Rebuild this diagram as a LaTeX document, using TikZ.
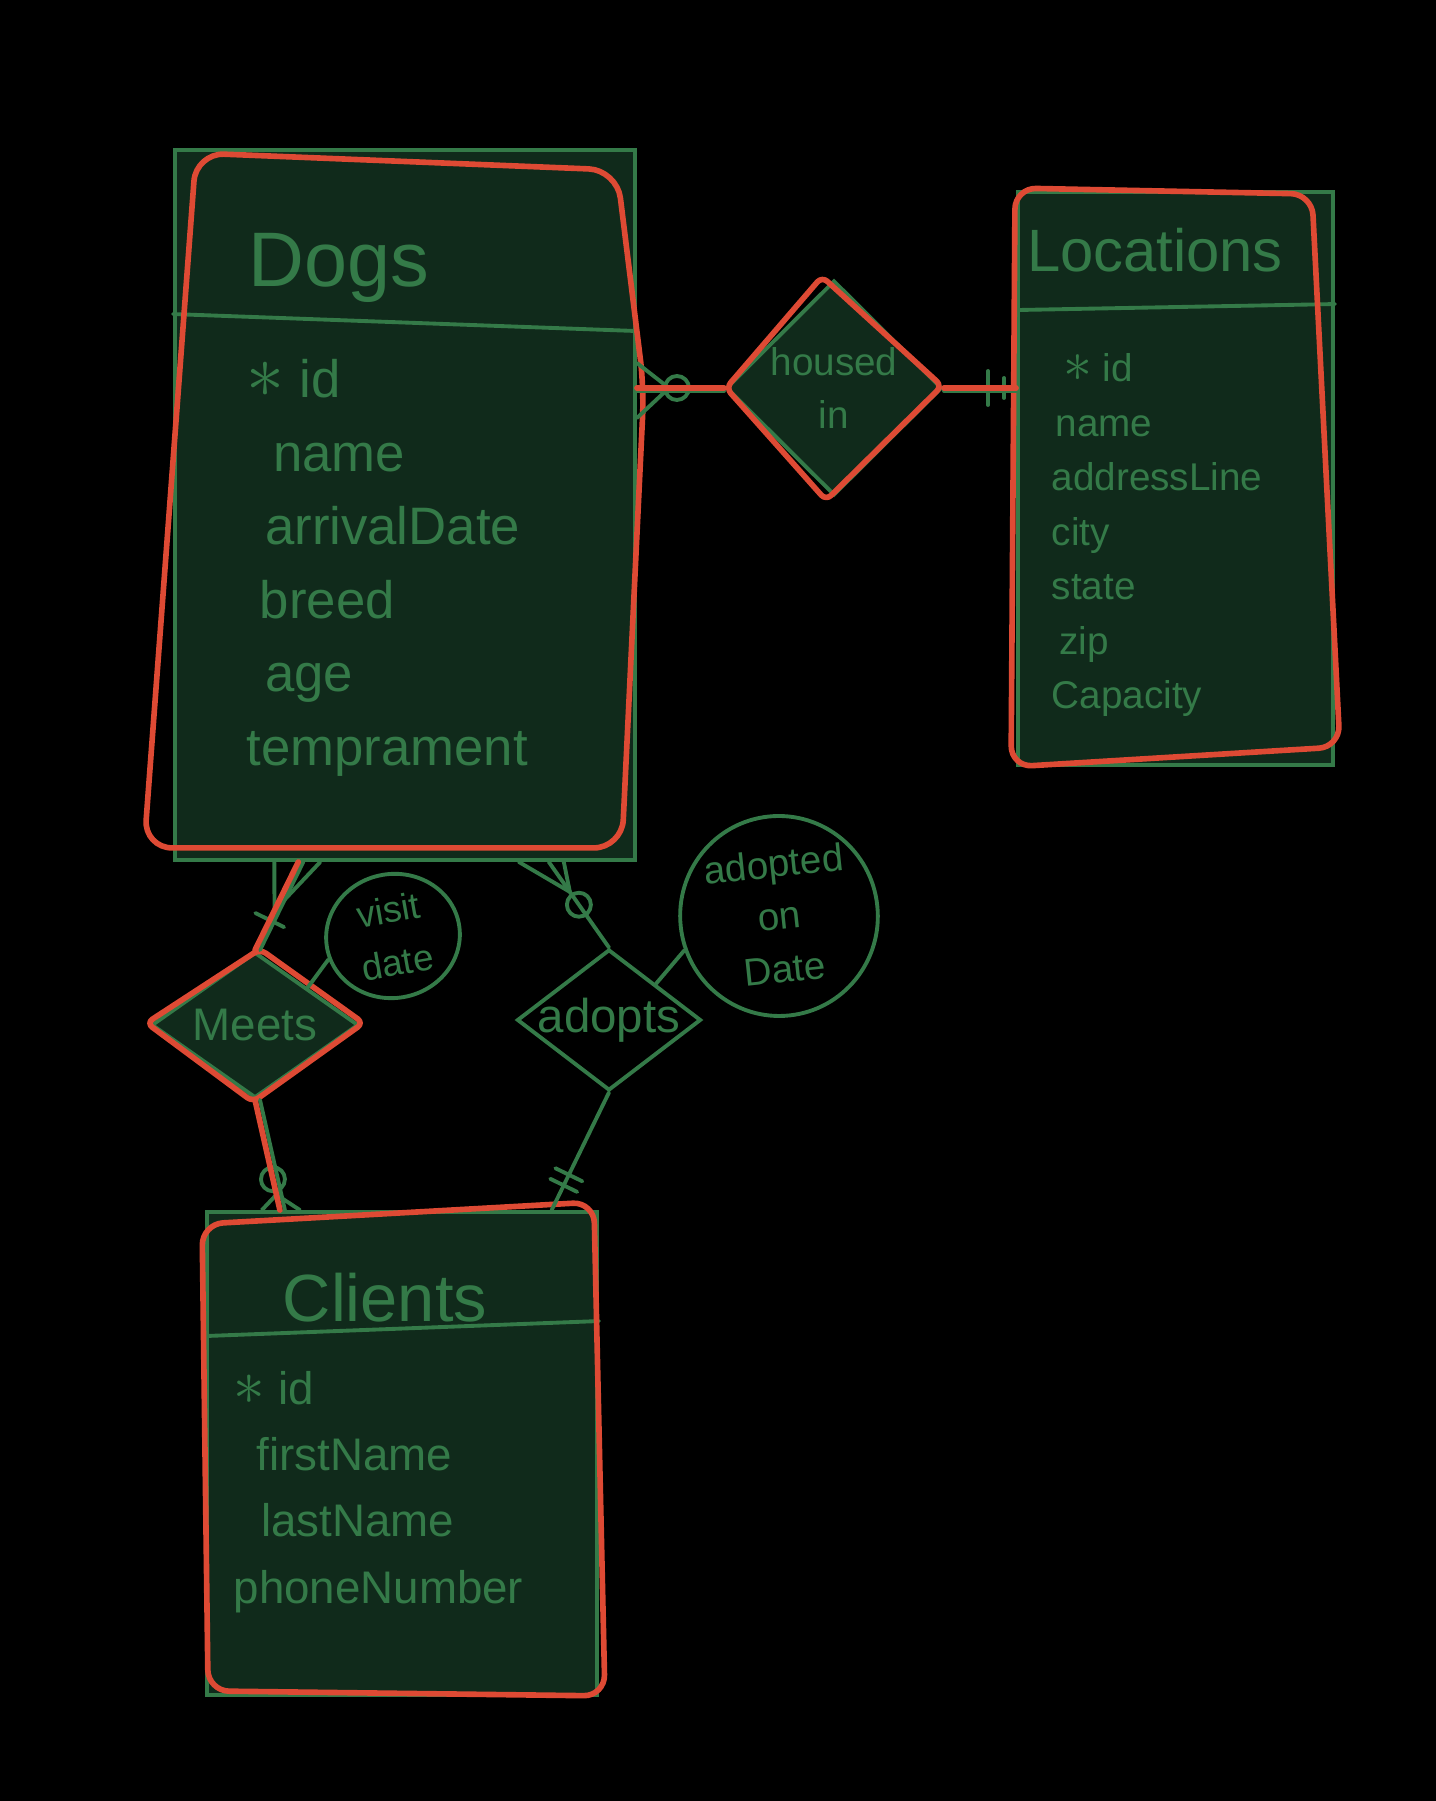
\documentclass[tikz,border=0pt]{standalone}
\usepackage{fontspec}
\setmainfont{Liberation Sans}
\usetikzlibrary{shapes.geometric,calc}
\definecolor{chalkgreen}{RGB}{52,122,72}
\definecolor{boardfill}{RGB}{16,42,27}
\definecolor{markerred}{RGB}{222,74,52}
\tikzset{
  entity/.style={draw=chalkgreen, line width=1.1pt, fill=boardfill, rectangle, inner sep=0pt},
  relation/.style={draw=chalkgreen, line width=1.1pt, diamond, inner sep=0pt, text=chalkgreen, align=center},
  attrib/.style={draw=chalkgreen, line width=1.1pt, ellipse, inner sep=0pt, text=chalkgreen, align=center},
  handtext/.style={text=chalkgreen, inner sep=0pt},
  greenline/.style={draw=chalkgreen, line width=1.1pt, line cap=round, line join=round},
  redline/.style={draw=markerred, line width=1.6pt, line cap=round, line join=round},
}
\newcommand{\keymark}{\scalebox{1.5}{$\ast$}}

\begin{document}
\begin{tikzpicture}
  % board
  \fill[black] (0,0) rectangle (14.36,18.01);

  % Dogs
  \node[entity, minimum width=4.6cm, minimum height=7.1cm] (dogs) at (4.05,12.96) {};
  \draw[greenline] ([yshift=-1.66cm]dogs.north west) -- ([yshift=-1.83cm]dogs.north east);
  \node[handtext, font=\fontsize{22}{26}\selectfont] (dogs-title) at (3.39,15.33) {Dogs};
  \node[handtext, anchor=north west, align=left, font=\fontsize{15}{20.9}\selectfont] (dogs-attrs) at (2.46,14.42)
    {\keymark\ id\\ \hspace{0.5em}name\\ \hspace{0.35em}arrivalDate\\ \hspace{0.25em}breed\\ \hspace{0.35em}age\\ temprament};
  \draw[redline, rounded corners=8pt] ([shift={(0.23,-0.05)}]dogs.north west) -- ([shift={(-0.2,-0.22)}]dogs.north east)
    -- ([shift={(0.07,-2.4)}]dogs.north east) -- ([shift={(-0.15,0.14)}]dogs.south east)
    -- ([shift={(-0.29,0.14)}]dogs.south west) -- cycle;

  % Locations
  \node[entity, minimum width=3.15cm, minimum height=5.73cm] (locations) at (11.755,13.225) {};
  \draw[greenline] ([yshift=-1.2cm]locations.north west) -- ([yshift=-1.14cm]locations.north east);
  \node[handtext, font=\fontsize{17}{20}\selectfont] (locations-title) at (11.55,15.51) {Locations};
  \node[handtext, anchor=north west, align=left, font=\fontsize{11}{15.5}\selectfont] (locations-attrs) at (10.51,14.48)
    {\hspace{0.3em}\keymark\ id\\ \hspace{0.1em}name\\ addressLine\\ city\\ state\\ \hspace{0.2em}zip\\ Capacity};
  \draw[redline, rounded corners=6pt] ([shift={(-0.01,0.02)}]locations.north west) -- ([shift={(-0.23,-0.04)}]locations.north east)
    -- ([shift={(0.05,0.2)}]locations.south east) -- ([shift={(-0.05,0)}]locations.south west) -- cycle;

  % Clients
  \node[entity, minimum width=3.9cm, minimum height=4.83cm] (clients) at (4.02,3.475) {};
  \draw[greenline] ([yshift=-1.26cm]clients.north west) -- ([yshift=-1.11cm]clients.north east);
  \node[handtext, font=\fontsize{19}{23}\selectfont] (clients-title) at (3.85,5.03) {Clients};
  \node[handtext, anchor=north west, align=left, font=\fontsize{13}{18.8}\selectfont] (clients-attrs) at (2.33,4.3)
    {\keymark\ id\\ \hspace{0.5em}firstName\\ \hspace{0.6em}lastName\\ phoneNumber};
  \draw[redline, rounded corners=6pt] ([shift={(-0.03,-0.14)}]clients.north west) -- ([shift={(-0.05,0.08)}]clients.north east)
    -- ([shift={(0.06,0.01)}]clients.south east) -- ([shift={(0.03,0.06)}]clients.south west) -- cycle;

  % relationships
  \node[relation, fill=boardfill, minimum width=2.16cm, minimum height=2.15cm, font=\fontsize{11}{15}\selectfont] (housed) at (8.34,14.13) {housed\\in};
  \node[relation, fill=boardfill, minimum width=2.07cm, minimum height=1.46cm, font=\fontsize{13}{16}\selectfont] (meets) at (2.55,7.76) {\makebox[0pt]{Meets}};
  \node[relation, minimum width=1.84cm, minimum height=1.41cm, font=\fontsize{13.5}{16}\selectfont] (adopts) at (6.09,7.81) {\makebox[0pt]{adopts}};
  \draw[redline, rounded corners=2pt] ([shift={(-0.12,0.02)}]housed.north) -- ([shift={(-0.02,0.02)}]housed.east)
    -- ([shift={(-0.08,-0.03)}]housed.south) -- ([shift={(0.02,0)}]housed.west) -- cycle;
  \draw[redline, rounded corners=2pt] ([shift={(0.05,0.01)}]meets.north) -- ([shift={(0.03,0.02)}]meets.east)
    -- ([shift={(-0.02,-0.02)}]meets.south) -- ([shift={(-0.03,0.02)}]meets.west) -- cycle;

  % attributes of relationships
  \node[attrib, rotate=10, minimum width=1.34cm, minimum height=1.24cm, font=\fontsize{10.5}{15}\selectfont] (visit) at (3.93,8.65) {visit\\date};
  \node[attrib, rotate=6, minimum width=1.96cm, minimum height=2.0cm, font=\fontsize{11}{15}\selectfont] (adopted) at (7.79,8.85) {adopted\\on\\Date};
  \draw[greenline] (meets.north east) -- (visit.190);
  \draw[greenline] (adopts.north east) -- (adopted.194);

  % Dogs -- housed in -- Locations
  \coordinate (dh) at (housed.west -| dogs.east);
  \coordinate (hl) at (housed.east -| locations.west);
  \draw[greenline] ([yshift=-0.03cm]dh) -- ([yshift=-0.03cm]housed.west);
  \draw[greenline] ([yshift=0.25cm]dh) -- ([xshift=0.32cm]dh) -- ([yshift=-0.3cm]dh);
  \draw[greenline] ([xshift=0.4cm]dh) circle (0.12cm);
  \draw[redline] (dh) -- (housed.west);
  \draw[greenline] ([yshift=-0.03cm]housed.east) -- ([yshift=-0.03cm]hl);
  \draw[greenline] ([shift={(-0.28,0.17)}]hl) -- ([shift={(-0.28,-0.17)}]hl);
  \draw[greenline] ([shift={(-0.12,0.1)}]hl) -- ([shift={(-0.12,-0.1)}]hl);
  \draw[redline] (housed.east) -- (hl);

  % Dogs -- Meets -- Clients
  \coordinate (dm) at ($(dogs.south west)!0.27!(dogs.south east)$);
  \coordinate (mc) at ($(clients.north west)!0.19!(clients.north east)$);
  \draw[greenline] ([xshift=0.05cm]dm) -- ([xshift=0.05cm]meets.north);
  \draw[greenline] ([xshift=-0.24cm]dm) -- ($(dm)!0.55!(meets.north)$) -- ([xshift=0.22cm]dm);
  \draw[greenline] ($(dm)!0.66!(meets.north)!0.16cm!90:(meets.north)$) -- ($(dm)!0.66!(meets.north)!0.16cm!-90:(meets.north)$);
  \draw[redline] (dm) -- (meets.north);
  \draw[greenline] ([xshift=0.05cm]meets.south) -- ([xshift=0.05cm]mc);
  \draw[greenline] ($(meets.south)!0.72!(mc)$) circle (0.12cm);
  \draw[greenline] ([xshift=-0.18cm]mc) -- ($(meets.south)!0.86!(mc)$) -- ([xshift=0.2cm]mc);
  \draw[redline] (meets.south) -- (mc);

  % Dogs -- adopts -- Clients
  \coordinate (da) at ($(dogs.south west)!0.81!(dogs.south east)$);
  \coordinate (ac) at ($(clients.north west)!0.88!(clients.north east)$);
  \draw[greenline] (da) -- (adopts.north);
  \draw[greenline] ([xshift=-0.3cm]da) -- ($(da)!0.35!(adopts.north)$) -- ([xshift=0.15cm]da);
  \draw[greenline] ($(da)!0.5!(adopts.north)$) circle (0.12cm);
  \draw[greenline] (adopts.south) -- (ac);
  \draw[greenline] ($(adopts.south)!0.7!(ac)!0.15cm!90:(ac)$) -- ($(adopts.south)!0.7!(ac)!0.15cm!-90:(ac)$);
  \draw[greenline] ($(adopts.south)!0.79!(ac)!0.15cm!90:(ac)$) -- ($(adopts.south)!0.79!(ac)!0.15cm!-90:(ac)$);
\end{tikzpicture}
\end{document}
